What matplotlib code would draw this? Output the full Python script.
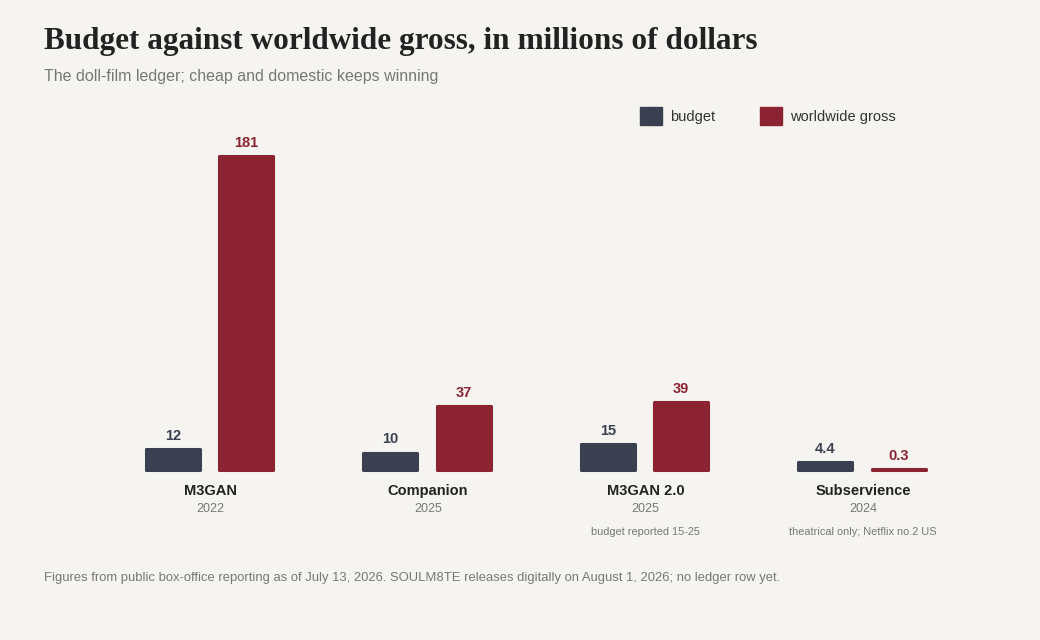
import matplotlib.pyplot as plt
from matplotlib.patches import Rectangle

films = ['M3GAN', 'Companion', 'M3GAN 2.0', 'Subservience']
years = ['2022', '2025', '2025', '2024']
notes = ['', '', 'budget reported 15-25', 'theatrical only; Netflix no.2 US']
budget = [12, 10, 15, 4.4]
gross = [181, 37, 39, 0.3]
budget_labels = ['12', '10', '15', '4.4']
gross_labels = ['181', '37', '39', '0.3']

bg = '#f5f4f0'
c_budget = '#3a4050'
c_gross = '#8b2332'
plt.rcParams['font.family'] = ['Liberation Sans', 'DejaVu Sans']

W, H = 1040, 640
fig = plt.figure(figsize=(10.4, 6.4), dpi=100, facecolor=bg)

# axes covering the whole figure, limits chosen so the bars land where they should
unit_x = 217.5
x0 = 210.5
unit_y = 314 / 181
y0 = 470
ax = fig.add_axes([0, 0, 1, 1])
ax.set_facecolor('none')
ax.set_xlim(-(x0 - 1) / unit_x, (W - x0 + 1) / unit_x)
ax.set_ylim(-(H - y0) / unit_y, y0 / unit_y)
ax.axis('off')

xs = list(range(len(films)))
w = 0.25
off = 0.169
lw = 2.2
ax.bar([x - off for x in xs], budget, width=w, color=c_budget,
       edgecolor=c_budget, linewidth=lw, joinstyle='round')
ax.bar([x + off for x in xs], gross, width=w, color=c_gross,
       edgecolor=c_gross, linewidth=lw, joinstyle='round')

for x, v, s in zip(xs, budget, budget_labels):
    ax.annotate(s, (x - off, v), xytext=(0, 4.5), textcoords='offset points',
                ha='center', va='bottom', fontsize=10.5, fontweight='bold', color=c_budget)
for x, v, s in zip(xs, gross, gross_labels):
    ax.annotate(s, (x + off, v), xytext=(0, 4.5), textcoords='offset points',
                ha='center', va='bottom', fontsize=10.5, fontweight='bold', color=c_gross)

def fy(py):
    return 1 - py / H

for x, name, yr, nt in zip(xs, films, years, notes):
    fx = (x0 + x * unit_x) / W
    fig.text(fx, fy(491), name, ha='center', va='center', fontsize=10.5,
             fontweight='bold', color='#222222')
    fig.text(fx, fy(509), yr, ha='center', va='center', fontsize=9, color='#777777')
    if nt:
        fig.text(fx, fy(532), nt, ha='center', va='center', fontsize=7.9, color='#777777')

fig.text(44 / W, fy(42), 'Budget against worldwide gross, in millions of dollars',
         ha='left', va='center', fontsize=22.5, fontweight='bold',
         family=['Liberation Serif', 'DejaVu Serif'], color='#222222')
fig.text(44 / W, fy(76), 'The doll-film ledger; cheap and domestic keeps winning',
         ha='left', va='center', fontsize=11.5, color='#777777')

# legend
for px, label, c in [(640, 'budget', c_budget), (760, 'worldwide gross', c_gross)]:
    fig.patches.append(Rectangle((px / W, fy(125)), 22 / W, 18 / H, color=c,
                                 transform=fig.transFigure))
    fig.text((px + 30) / W, fy(117), label, ha='left', va='center',
             fontsize=10.5, color='#333333')

fig.text(44 / W, fy(578),
         'Figures from public box-office reporting as of July 13, 2026. SOULM8TE releases '
         'digitally on August 1, 2026; no ledger row yet.',
         ha='left', va='center', fontsize=9.4, color='#777777')

plt.savefig('out.png', dpi=100, facecolor=bg)
